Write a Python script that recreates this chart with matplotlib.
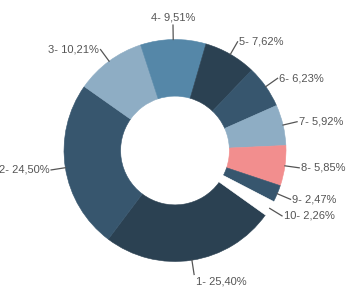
import numpy as np
import matplotlib
matplotlib.use("Agg")
import matplotlib.pyplot as plt

# slice data
labels = ["1", "2", "3", "4", "5", "6", "7", "8", "9", "10"]
values = [25.40, 24.50, 10.21, 9.51, 7.62, 6.23, 5.92, 5.85, 2.47, 2.26]
colors = ["#2b4152", "#37566e", "#8eadc4", "#5587a8", "#2b4152",
          "#37566e", "#8eadc4", "#f28e8e", "#37566e", "#ffffff"]

plt.rcParams['font.family'] = ['Liberation Sans', 'DejaVu Sans']

fig = plt.figure(figsize=(3.5, 3.0), dpi=100)
ax = fig.add_axes([0, 0, 1, 1])

wedges, _ = ax.pie(values, colors=colors, startangle=-35.5, counterclock=False,
                   radius=1.0, wedgeprops=dict(width=0.51, linewidth=0.4))
for w, c in zip(wedges, colors):
    w.set_edgecolor(c)

R = 111.0  # outer radius in px
ax.set_xlim(-175 / R, 175 / R)
ax.set_ylim(-149.5 / R, 150.5 / R)
ax.set_aspect('equal')
ax.axis('off')

txt_col = "#555555"
for w, lab, v in zip(wedges, labels, values):
    ang = np.deg2rad((w.theta1 + w.theta2) / 2)
    c, s = np.cos(ang), np.sin(ang)
    r0, r1 = 1.0, 1.13
    ax.plot([r0 * c, r1 * c], [r0 * s, r1 * s], color=txt_col, lw=0.9)
    if c > 0.1:
        ha = 'left'
    elif c < -0.1:
        ha = 'right'
    else:
        ha = 'center'
    if s > 0.9:
        va = 'bottom'
    elif s < -0.9:
        va = 'top'
    else:
        va = 'center'
    dx = 0.015 if ha == 'left' else (-0.015 if ha == 'right' else 0)
    dy = 0.02 if va == 'bottom' else (-0.02 if va == 'top' else 0)
    text = "{}- {}%".format(lab, ("%.2f" % v).replace('.', ','))
    ax.text(r1 * c + dx, r1 * s + dy, text, ha=ha, va=va,
            fontsize=8, color=txt_col)

fig.savefig("out.png", dpi=100)
